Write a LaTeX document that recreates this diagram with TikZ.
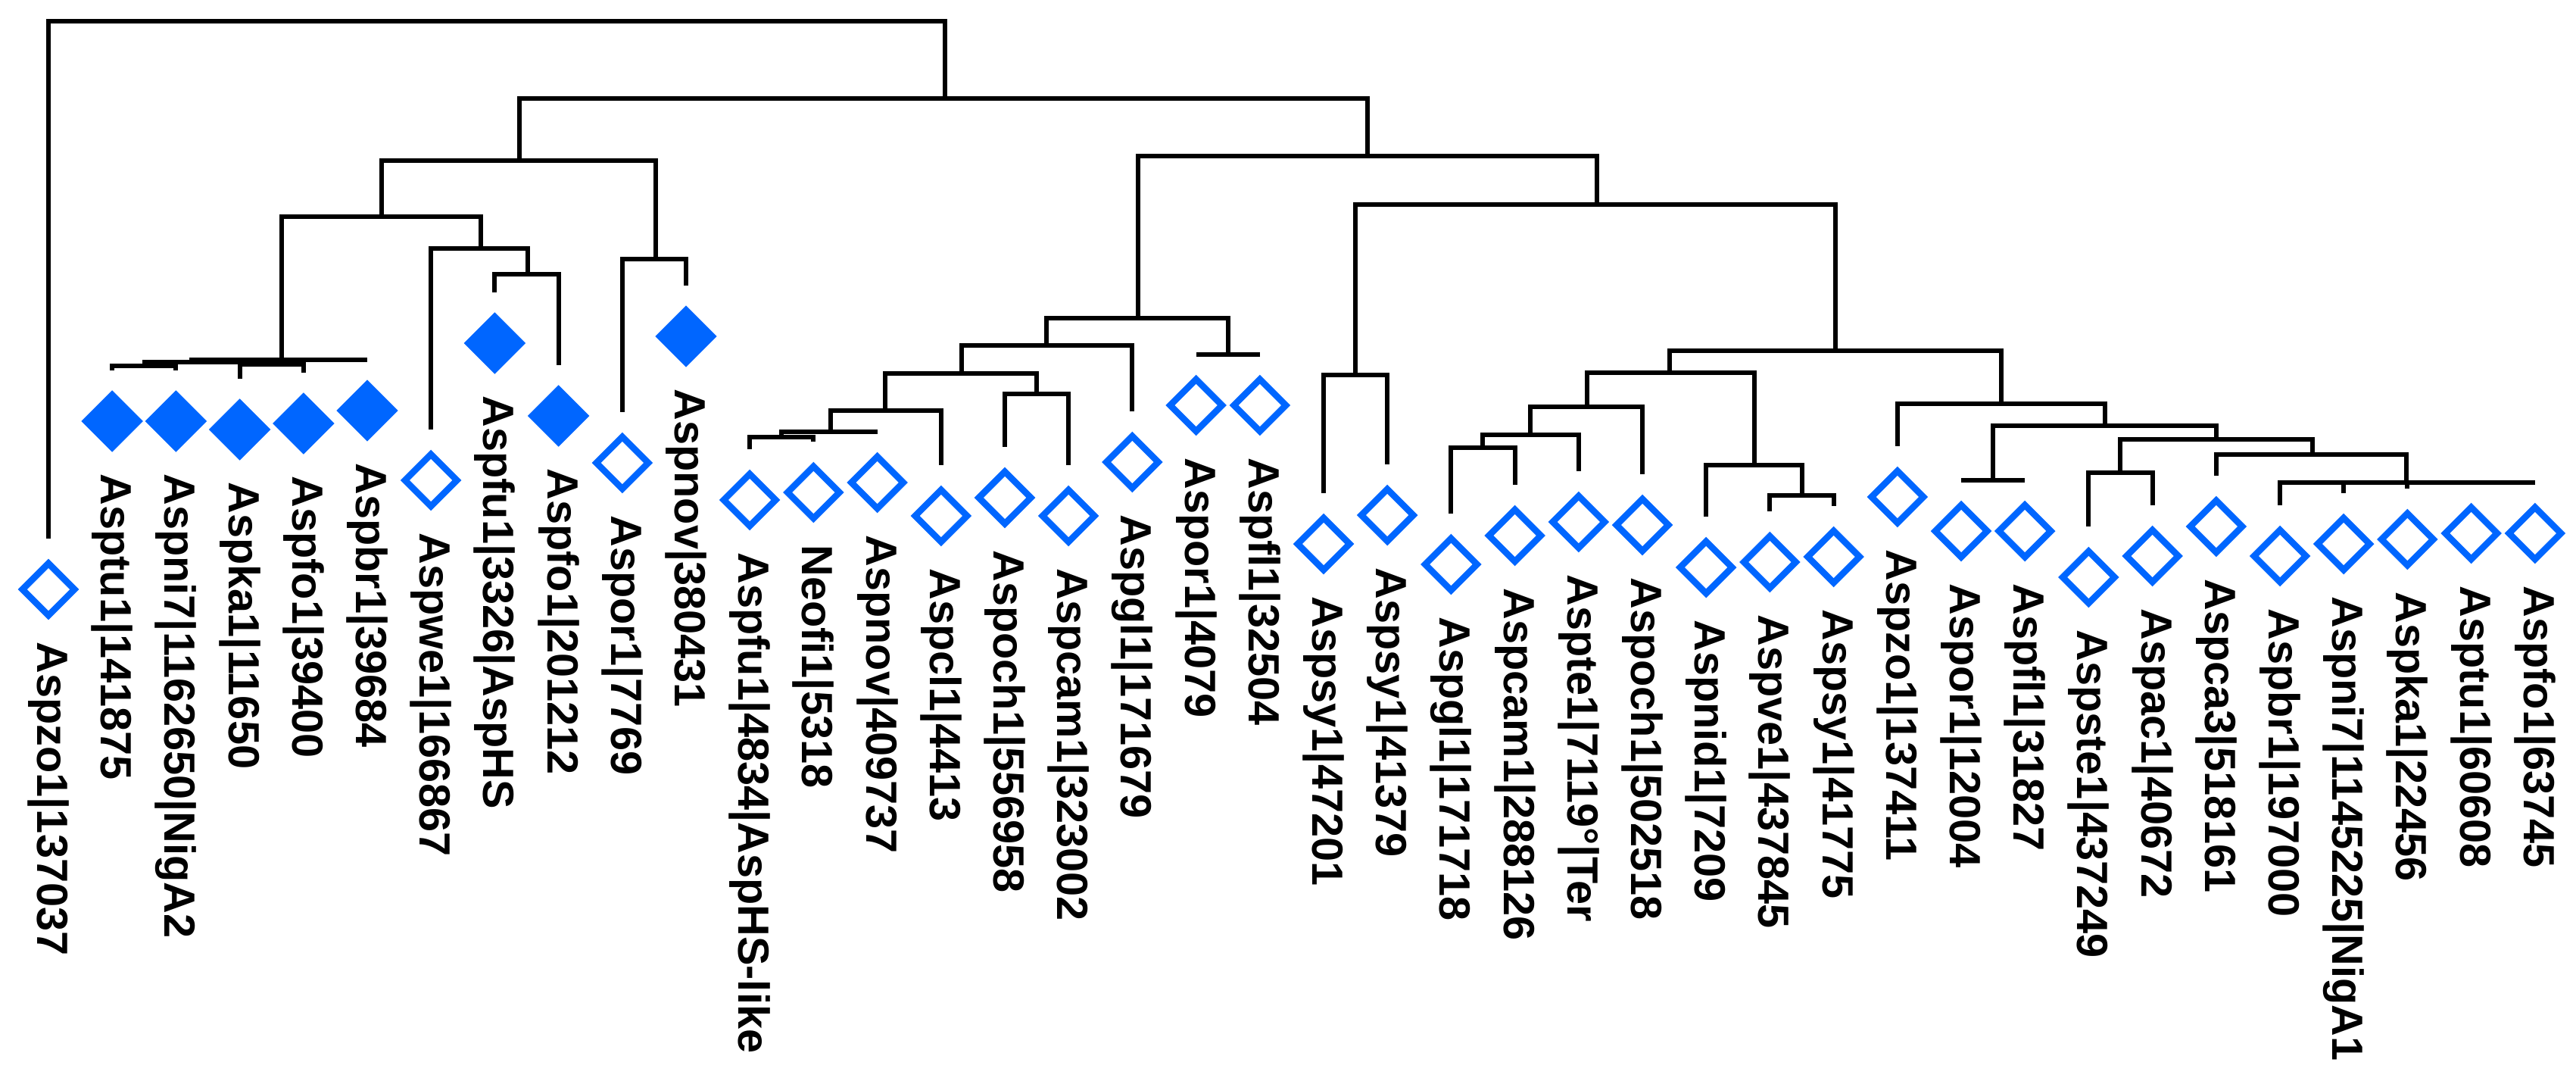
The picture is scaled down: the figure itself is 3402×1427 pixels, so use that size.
\documentclass[tikz,border=0pt]{standalone}
\usepackage{fontspec}
\setmainfont{Liberation Sans}
\usetikzlibrary{shapes.geometric}
\definecolor{dblue}{RGB}{0,102,255}
\begin{document}
\begin{tikzpicture}[x=0.01cm,y=-0.01cm,
  branch/.style={line width=0.06cm, draw=black},
  opend/.style={diamond, shape aspect=1, draw=dblue, line width=0.085cm, fill=white,
    minimum width=0.72cm, minimum height=0.72cm, inner sep=0pt},
  filld/.style={diamond, shape aspect=1, fill=dblue, draw=none,
    minimum width=0.82cm, minimum height=0.82cm, inner sep=0pt},
  lab/.style={rotate=-90, anchor=west, inner sep=0pt,
    font=\bfseries\fontsize{16.4}{19}\selectfont}]
\useasboundingbox[fill=white] (0,0) rectangle (3402,1427);

% leaves: index / tip y / marker / label
\foreach \i/\ty/\mk/\txt in {
 1/711/opend/{Aspzo1|137037},
 2/489/filld/{Asptu1|141875},
 3/489/filld/{Aspni7|1162650|NigA2},
 4/500/filld/{Aspka1|11650},
 5/492/filld/{Aspfo1|39400},
 6/475/filld/{Aspbr1|39684},
 7/567/opend/{Aspwe1|166867},
 8/386/filld/{Aspfu1|3326|AspHS},
 9/482/filld/{Aspfo1|201212},
 10/544/opend/{Aspor1|7769},
 11/377/filld/{Aspnov|380431},
 12/593/opend/{Aspfu1|4834|AspHS-like},
 13/583/opend/{Neofi1|5318},
 14/570/opend/{Aspnov|409737},
 15/614/opend/{Aspcl1|4413},
 16/590/opend/{Aspoch1|556958},
 17/614/opend/{Aspcam1|323002},
 18/543/opend/{Aspgl1|171679},
 19/468/opend/{Aspor1|4079},
 20/468/opend/{Aspfl1|32504},
 21/651/opend/{Aspsy1|47201},
 22/613/opend/{Aspsy1|41379},
 23/678/opend/{Aspgl1|171718},
 24/640/opend/{Aspcam1|288126},
 25/622/opend/{Aspte1|7119°|Ter},
 26/626/opend/{Aspoch1|502518},
 27/682/opend/{Aspnid1|7209},
 28/675/opend/{Aspve1|437845},
 29/668/opend/{Aspsy1|41775},
 30/589/opend/{Aspzo1|137411},
 31/634/opend/{Aspor1|12004},
 32/634/opend/{Aspfl1|31827},
 33/695/opend/{Aspste1|437249},
 34/667/opend/{Aspac1|40672},
 35/628/opend/{Aspca3|518161},
 36/667/opend/{Aspbr1|197000},
 37/651/opend/{Aspni7|1145225|NigA1},
 38/645/opend/{Aspka1|22456},
 39/637/opend/{Asptu1|60608},
 40/637/opend/{Aspfo1|63745}}{
  \pgfmathsetmacro{\xx}{64+(\i-1)*84.2}
  \coordinate (t\i) at (\xx,\ty);
  \node[\mk] (d\i) at (\xx,\ty+67) {};
  \node[lab] (l\i) at (\xx,\ty+136) {\txt};
}

% internal nodes
\coordinate (R) at (656,28);
\coordinate (nA) at (1248,130);
\coordinate (nB) at (686,212);
\coordinate (nB1) at (504,286);
\coordinate (nW) at (635,328);
\coordinate (nX) at (697,362);
\coordinate (nB2) at (866,342);
\coordinate (T) at (372,475);
\coordinate (A2) at (253,478);
\coordinate (B2) at (191,483);
\coordinate (C2) at (359,481);
\coordinate (nC) at (1806,206);
\coordinate (nD) at (1503,420);
\coordinate (nD1) at (1382,456);
\coordinate (nD2) at (1622,468);
\coordinate (nD3) at (1270,493);
\coordinate (nD4) at (1169,542);
\coordinate (nD5) at (1369,520);
\coordinate (nD6) at (1097,570);
\coordinate (nD7) at (1032,577);
\coordinate (nE) at (2109,270);
\coordinate (nE1) at (1790,495);
\coordinate (nF) at (2424,463);
\coordinate (nG) at (2205,492);
\coordinate (nG1) at (2096,537);
\coordinate (nG3) at (2021,574);
\coordinate (nG4) at (1958,591);
\coordinate (nG2) at (2317,614);
\coordinate (nG5) at (2380,654);
\coordinate (nH) at (2643,533);
\coordinate (nI) at (2780,562);
\coordinate (nI1) at (2632,634);
\coordinate (nJ) at (2927,580);
\coordinate (nK) at (2800,624);
\coordinate (nL) at (3054,600);
\coordinate (nM) at (3178,637);

\begin{scope}[branch]
\draw (R) -| (t1);  \draw (R) -| (nA);
\draw (nA) -| (nB); \draw (nA) -| (nC);
\draw (nB) -| (nB1); \draw (nB) -| (nB2);
\draw (nB1) -| (T); \draw (nB1) -| (nW);
\draw (nW) -| (t7); \draw (nW) -| (nX);
\draw (nX) -| (t8); \draw (nX) -| (t9);
\draw (nB2) -| (t10); \draw (nB2) -| (t11);
\draw (T) -| (A2); \draw (T) -| (t6);
\draw (A2) -| (B2); \draw (A2) -| (C2);
\draw (B2) -| (t2); \draw (B2) -| (t3);
\draw (C2) -| (t4); \draw (C2) -| (t5);
\draw (nC) -| (nD); \draw (nC) -| (nE);
\draw (nD) -| (nD1); \draw (nD) -| (nD2);
\draw (nD2) -| (t19); \draw (nD2) -| (t20);
\draw (nD1) -| (nD3); \draw (nD1) -| (t18);
\draw (nD3) -| (nD4); \draw (nD3) -| (nD5);
\draw (nD5) -| (t16); \draw (nD5) -| (t17);
\draw (nD4) -| (nD6); \draw (nD4) -| (t15);
\draw (nD6) -| (nD7); \draw (nD6) -| (t14);
\draw (nD7) -| (t12); \draw (nD7) -| (t13);
\draw (nE) -| (nE1); \draw (nE) -| (nF);
\draw (nE1) -| (t21); \draw (nE1) -| (t22);
\draw (nF) -| (nG); \draw (nF) -| (nH);
\draw (nG) -| (nG1); \draw (nG) -| (nG2);
\draw (nG1) -| (nG3); \draw (nG1) -| (t26);
\draw (nG3) -| (nG4); \draw (nG3) -| (t25);
\draw (nG4) -| (t23); \draw (nG4) -| (t24);
\draw (nG2) -| (t27); \draw (nG2) -| (nG5);
\draw (nG5) -| (t28); \draw (nG5) -| (t29);
\draw (nH) -| (t30); \draw (nH) -| (nI);
\draw (nI) -| (nI1); \draw (nI) -| (nJ);
\draw (nI1) -| (t31); \draw (nI1) -| (t32);
\draw (nJ) -| (nK); \draw (nJ) -| (nL);
\draw (nK) -| (t33); \draw (nK) -| (t34);
\draw (nL) -| (t35); \draw (nL) -| (nM);
\draw (nM) -| (t36); \draw (nM) -| (t37); \draw (nM) -| (t38);
\draw (nM) -| (t39); \draw (nM) -| (t40);
\end{scope}
\end{tikzpicture}
\end{document}
